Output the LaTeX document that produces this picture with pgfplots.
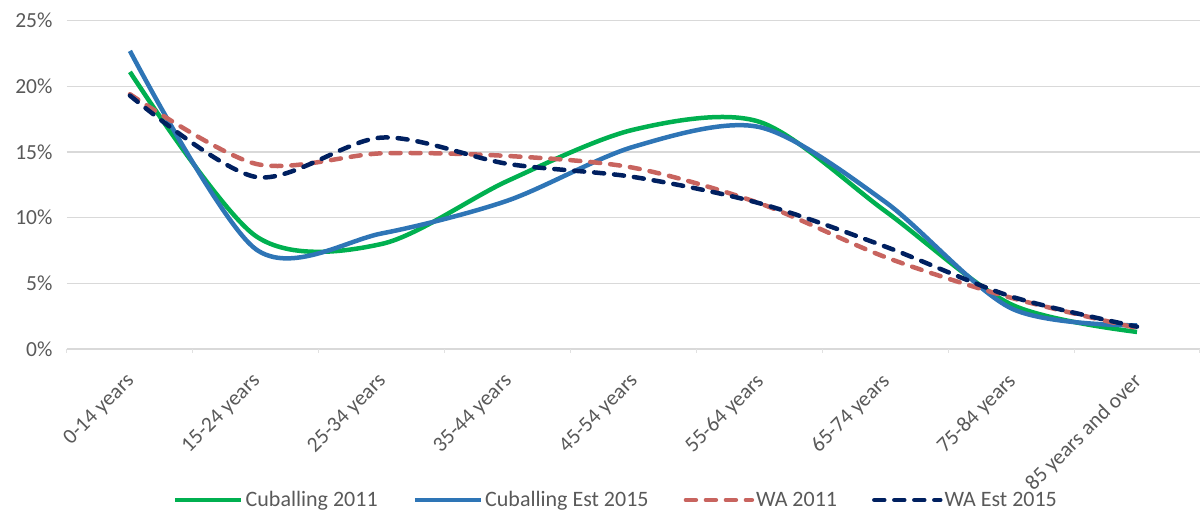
\documentclass[border=0pt]{standalone}
\usepackage{pgfplots}
\pgfplotsset{compat=1.18}
\usepackage{pgfplotstable}
\usepackage{fontspec}
\setmainfont{Carlito}
\definecolor{cgreen}{RGB}{0,176,80}
\definecolor{cblue}{RGB}{46,117,182}
\definecolor{cred}{RGB}{200,100,95}
\definecolor{cnavy}{RGB}{0,32,96}
\definecolor{gridc}{RGB}{217,217,217}
\definecolor{txt}{RGB}{89,89,89}
\pgfplotstableread{
x green blue red navy
0 21.1 22.7 19.4 19.3
1 8.6 7.6 14.1 13.1
2 8.0 8.8 14.9 16.1
3 12.8 11.3 14.7 14.1
4 16.7 15.4 13.8 13.1
5 17.3 16.9 11.1 11.1
6 10.5 11.2 7.0 7.8
7 3.4 3.1 3.9 4.0
8 1.3 1.8 1.6 1.7
}\datatab
\begin{document}
\begin{tikzpicture}
\path[use as bounding box] (-67pt,-170pt) rectangle (1136pt,349pt);
\begin{axis}[
  at={(0pt,0pt)}, anchor=south west,
  scale only axis, width=1133pt, height=328.3pt,
  xmin=-0.5, xmax=8.5, ymin=0, ymax=25,
  axis x line*=bottom, axis y line*=left,
  axis line style={draw=none},
  ymajorgrids, grid style={gridc, line width=1.3pt},
  ytick={0,5,10,15,20,25},
  yticklabel={\pgfmathprintnumber{\tick}\%},
  xtick={0,...,8},
  xticklabels={0-14 years,15-24 years,25-34 years,35-44 years,45-54 years,55-64 years,65-74 years,75-84 years,85 years and over},
  extra x ticks={-0.5,0.5,...,8.5},
  extra x tick labels={},
  extra x tick style={major tick length=4pt, tick style={gridc!80!white, line width=1pt}, tick align=outside},
  major tick length=0pt,
  tick label style={font=\fontsize{21.5}{24}\selectfont, text=txt},
  yticklabel style={xshift=-11pt},
  xticklabel style={xshift=-5pt, yshift=-18pt, rotate=45, anchor=north east},
  /pgf/number format/assume math mode=true,
  clip=false,
  legend columns=4,
  legend style={at={(0.4846,-0.46)}, anchor=center, draw=none, fill=none,
    font=\fontsize{22}{25}\selectfont, text=txt,
    /tikz/every even column/.append style={column sep=33pt}},
  legend image code/.code={\draw[#1] (0pt,0pt) -- (66pt,0pt);},
]
\addplot[cgreen, line width=4.5pt, smooth] table[x=x,y=green]{\datatab};
\addlegendentry{Cuballing 2011}
\addplot[cblue, line width=4.5pt, smooth] table[x=x,y=blue]{\datatab};
\addlegendentry{Cuballing Est 2015}
\addplot[cred, line width=4.5pt, smooth, line cap=round, dash pattern=on 10pt off 10pt] table[x=x,y=red]{\datatab};
\addlegendentry{WA 2011}
\addplot[cnavy, line width=4.5pt, smooth, line cap=round, dash pattern=on 10pt off 10pt] table[x=x,y=navy]{\datatab};
\addlegendentry{WA Est 2015}
\end{axis}
\end{tikzpicture}
\end{document}
